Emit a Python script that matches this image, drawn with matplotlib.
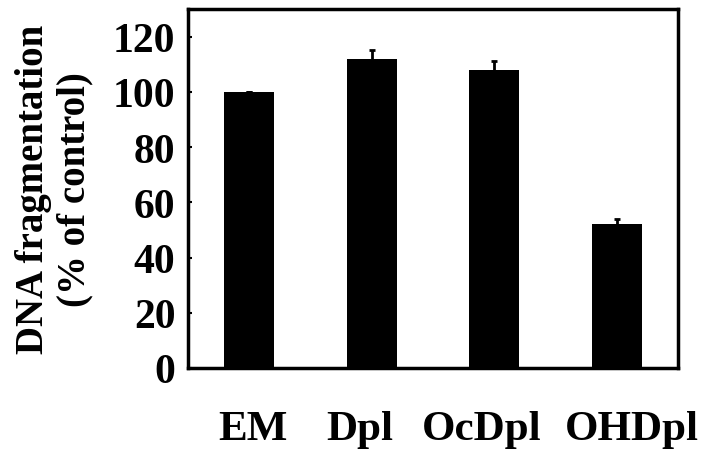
import matplotlib.pyplot as plt
import numpy as np

# Values
groups = ["EM", "Dpl", "OcDpl", "OHDpl"]
fragmentation = [100, 112, 108, 52]
errors = [0, 3, 3, 2]

# labels in the original are not quite centred under the bars
label_shift = [0.03, -0.1, -0.1, 0.12]

plt.rcParams["font.family"] = ["Liberation Serif", "DejaVu Serif"]
plt.rcParams["font.weight"] = "bold"

fig = plt.figure(figsize=(7.06, 4.56), dpi=100)
ax = fig.add_axes([188 / 706, 1 - 369 / 456, 490 / 706, 359 / 456])

x = np.arange(len(groups))
ax.bar(x, fragmentation, width=0.41, color="black",
       yerr=errors, capsize=2.5, error_kw=dict(ecolor="black", elinewidth=2, capthick=2))

ax.set_xlim(-0.5, 3.5)
ax.set_ylim(0, 130)
ax.set_yticks([0, 20, 40, 60, 80, 100, 120])
ax.set_xticks(x + np.array(label_shift))
ax.set_xticklabels(groups, fontsize=31, fontweight="bold")
ax.tick_params(axis="y", direction="in", length=3, width=1.5, labelsize=30, pad=9)
ax.tick_params(axis="x", length=0, pad=30)
for lab in ax.get_yticklabels():
    lab.set_fontweight("bold")

for s in ax.spines.values():
    s.set_linewidth(2.5)

ax.set_ylabel("DNA fragmentation\n(% of control)", fontsize=28, fontweight="bold",
              linespacing=1.15, labelpad=14)

fig.savefig("out.png", dpi=100)
